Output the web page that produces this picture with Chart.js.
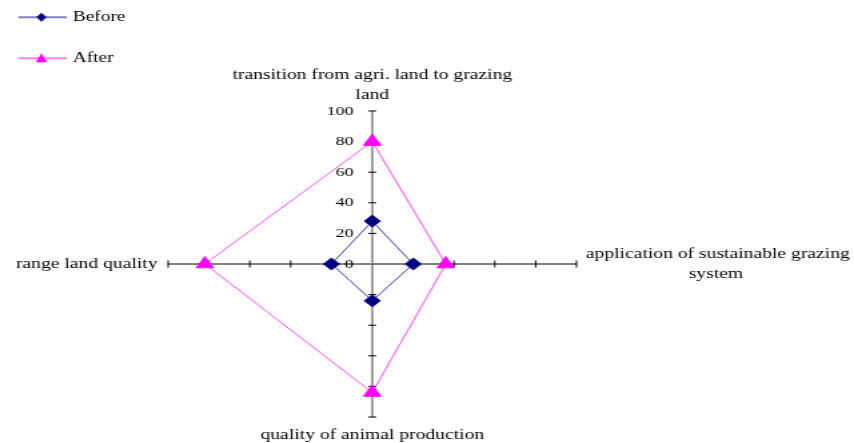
<!DOCTYPE html>
<html>
<head>
<meta charset="utf-8">
<script src="https://cdn.jsdelivr.net/npm/chart.js@4/dist/chart.umd.min.js"></script>
<style>
html,body{margin:0;padding:0;background:#fff;overflow:hidden;width:854px;height:443px;position:relative}
#c{display:block;position:absolute;top:0}
</style>
</head>
<body>
<canvas id="c"></canvas>
<script>
// ---------------- data ----------------
const categories = [
  ['transition from agri. land to grazing', 'land'],
  ['application of sustainable grazing', 'system'],
  'quality of animal production',
  'range land quality'
];
const seriesNames = ['Before', 'After'];
const beforeValues = [28, 20, 24, 20];
const afterValues = [80, 36, 84, 82];
const tickLabels = ['0', '20', '40', '60', '80', '100'];

// ---------------- style ----------------
const VIEW_W = 854, VIEW_H = 443;
const S = 854 / 640;                     // horizontal stretch of the picture
const FAMILY = "'Liberation Serif', 'Times New Roman', Times, serif";
const LABEL_SIZE = 14.7;
const LEGEND_SIZE = 14.5;
const TICK_SIZE = 13.5;
const LINE_HEIGHT = 1.36;
const POINT_PAD = [6, 7, 8, 8];
const CENTER_X = 279, CENTER_Y = 264, RADIUS = 153.5;   // in unstretched units
const LEGEND_PAD = 10, LEGEND_ROW = 31;
const LEGEND_TEXT_X = 54.5, LEGEND_LINE = [13.7, 50], LEGEND_MARK_X = 31;
const COLORS = ['#000080', '#FF00FF'];

// ------------- layout so the radial scale lands where wanted -------------
const mctx = document.createElement('canvas').getContext('2d');
function textWidth(lines, size) {
  mctx.font = `normal ${size}px ${FAMILY}`;
  return Math.max(...[].concat(lines).map(s => mctx.measureText(s).width));
}
const sizes = categories.map(l => ({
  w: textWidth(l, LABEL_SIZE),
  h: [].concat(l).length * LABEL_SIZE * LINE_HEIGHT
}));
const tm = POINT_PAD[0] + sizes[0].h;
const bm = POINT_PAD[2] + sizes[2].h;
const M = Math.max(tm, bm);
const D0 = Math.round(RADIUS + M);
const yc0 = CENTER_Y - Math.floor((tm - bm) / 2);
const areaTop = yc0 - D0, areaBottom = yc0 + D0;
const rm = M;
const xc0v = CENTER_X - Math.floor(-rm / 2);
const areaRightV = xc0v + D0 + POINT_PAD[1] + sizes[1].w - rm;
const areaLeftV = 2 * xc0v + 0.5 - areaRightV;
// the canvas is wider than the view and shifted left so the chart area fits inside it
const OX = Math.max(0, Math.ceil(-areaLeftV) + 1);
const WC = Math.ceil(areaRightV + OX) + 1;
const HC = Math.max(VIEW_H, Math.ceil(areaBottom) + 1);
const areaLeft = areaLeftV + OX, areaRight = areaRightV + OX;

const canvas = document.getElementById('c');
canvas.width = WC; canvas.height = HC;
canvas.style.width = (WC * S) + 'px';
canvas.style.height = HC + 'px';
canvas.style.left = (-OX * S) + 'px';

// ------------- legend icons (line with marker) -------------
const legendX0 = areaLeft + LEGEND_PAD;
const legendBoxW = LEGEND_TEXT_X + OX - LEGEND_SIZE / 2 - legendX0;
function makeIcon(kind, color) {
  const cx = legendX0 + legendBoxW / 2;
  const l0 = LEGEND_LINE[0] + OX, l1 = LEGEND_LINE[1] + OX;
  const half = Math.ceil(Math.max(Math.abs(l1 - cx), Math.abs(cx - l0))) + 6;
  const c = document.createElement('canvas');
  c.width = half * 2; c.height = 20;
  const g = c.getContext('2d');
  const ox = half - cx, oy = 10;
  g.strokeStyle = color; g.lineWidth = 1;
  g.beginPath(); g.moveTo(l0 + ox, oy); g.lineTo(l1 + ox, oy); g.stroke();
  const mx = LEGEND_MARK_X + OX + ox;
  g.fillStyle = color;
  g.beginPath();
  if (kind === 'diamond') {
    g.moveTo(mx, oy - 4.5); g.lineTo(mx + 3.8, oy); g.lineTo(mx, oy + 4.5); g.lineTo(mx - 3.8, oy);
  } else {
    g.moveTo(mx, oy - 5); g.lineTo(mx + 4.3, oy + 4); g.lineTo(mx - 4.3, oy + 4);
  }
  g.closePath(); g.fill();
  return c;
}
const legendIcons = [makeIcon('diamond', COLORS[0]), makeIcon('triangle', COLORS[1])];

// ------------- axis tick marks and tick labels -------------
const axisTicksPlugin = {
  id: 'axisTicks',
  beforeDatasetsDraw(chart) {
    const s = chart.scales.r, ctx = chart.ctx;
    const n = chart.data.labels.length;
    ctx.save();
    ctx.strokeStyle = '#000';
    ctx.lineWidth = 1;
    tickLabels.forEach(lbl => {
      const v = Number(lbl);
      if (v === 0) return;
      for (let i = 0; i < n; i++) {
        const p = s.getPointPositionForValue(i, v);
        ctx.beginPath();
        if (i % 2 === 0) { ctx.moveTo(p.x - 3, p.y); ctx.lineTo(p.x + 3, p.y); }
        else { ctx.moveTo(p.x, p.y - 3.5); ctx.lineTo(p.x, p.y + 3.5); }
        ctx.stroke();
      }
    });
    ctx.fillStyle = '#000';
    ctx.font = `${TICK_SIZE}px ${FAMILY}`;
    ctx.textAlign = 'right';
    ctx.textBaseline = 'middle';
    tickLabels.forEach(lbl => {
      const p = s.getPointPositionForValue(0, Number(lbl));
      ctx.fillText(lbl, p.x - 14, p.y);
    });
    ctx.restore();
  }
};

new Chart(canvas, {
  type: 'radar',
  data: {
    labels: categories,
    datasets: [
      {
        label: seriesNames[0], data: beforeValues,
        borderColor: COLORS[0], backgroundColor: COLORS[0], borderWidth: 0.75, fill: false,
        pointStyle: 'rectRot', pointRadius: 6, pointHoverRadius: 6, pointBorderWidth: 1,
        pointBackgroundColor: COLORS[0], pointBorderColor: COLORS[0]
      },
      {
        label: seriesNames[1], data: afterValues,
        borderColor: COLORS[1], backgroundColor: COLORS[1], borderWidth: 0.75, fill: false,
        pointStyle: 'triangle', pointRadius: 7.5, pointHoverRadius: 7.5, pointBorderWidth: 1,
        pointBackgroundColor: COLORS[1], pointBorderColor: COLORS[1]
      }
    ]
  },
  options: {
    responsive: false,
    animation: false,
    events: [],
    layout: { padding: { left: areaLeft, top: areaTop, right: WC - areaRight, bottom: HC - areaBottom } },
    elements: { line: { tension: 0 } },
    scales: {
      r: {
        min: 0, max: 100,
        ticks: { display: false, stepSize: 20 },
        grid: { display: false },
        angleLines: {
          display: true,
          color: c => (c.index % 2 === 0 ? '#808080' : '#000000'),
          lineWidth: c => (c.index % 2 === 0 ? 1.5 : 1)
        },
        pointLabels: {
          display: true,
          color: '#000',
          font: { family: FAMILY, size: LABEL_SIZE, lineHeight: LINE_HEIGHT },
          padding: c => POINT_PAD[c.index],
          callback: (label, index) => {
            if (!Array.isArray(label) || index !== 1) return label;
            mctx.font = `normal ${LABEL_SIZE}px ${FAMILY}`;
            const full = Math.max(...label.map(s => mctx.measureText(s).width));
            const sp = mctx.measureText(' ').width;
            return label.map(s => ' '.repeat(Math.max(0, Math.round((full - mctx.measureText(s).width) / 2 / sp))) + s);
          }
        }
      }
    },
    plugins: {
      tooltip: { enabled: false },
      legend: {
        position: 'chartArea',
        align: 'start',
        labels: {
          usePointStyle: true,
          pointStyleWidth: legendBoxW,
          padding: LEGEND_PAD,
          color: '#000',
          font: { family: FAMILY, size: LEGEND_SIZE, lineHeight: LEGEND_ROW / LEGEND_SIZE },
          generateLabels: chart => chart.data.datasets.map((ds, i) => ({
            text: [ds.label],
            fillStyle: ds.backgroundColor,
            strokeStyle: ds.borderColor,
            lineWidth: 0,
            hidden: false,
            datasetIndex: i,
            pointStyle: legendIcons[i],
            rotation: 0,
            textAlign: 'left',
            fontColor: '#000'
          }))
        }
      }
    }
  },
  plugins: [axisTicksPlugin]
});
</script>
</body>
</html>
